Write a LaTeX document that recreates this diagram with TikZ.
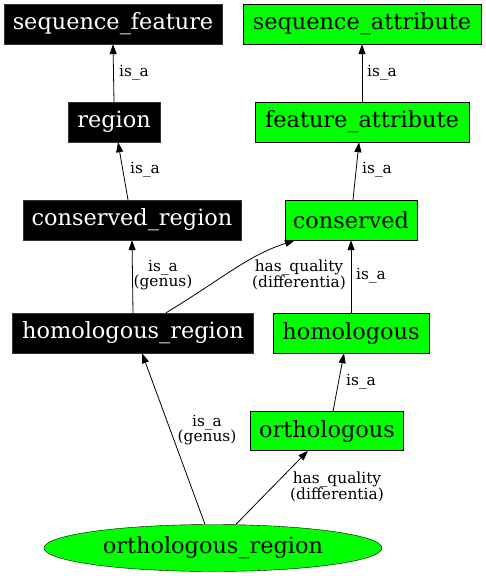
\documentclass[tikz,border=0pt]{standalone}
\usepackage{fontspec}
\setmainfont{DejaVu Serif}
\usetikzlibrary{arrows.meta,shapes.geometric}
\definecolor{gvgreen}{RGB}{0,255,0}
\tikzset{
  blk/.style={draw=black!80, fill=black, text=white, inner sep=0pt, font=\fontsize{22.4}{24}\selectfont},
  grn/.style={draw=black, fill=gvgreen, text=black, inner sep=0pt, font=\fontsize{22.4}{24}\selectfont},
  edge/.style={-{Triangle[length=10pt,width=7pt]}, line width=0.8pt},
  lbl/.style={font=\fontsize{15.4}{15.5}\selectfont, align=center, inner sep=0pt}
}
\begin{document}
\begin{tikzpicture}[x=1pt,y=-1pt]
\useasboundingbox (0,0) rectangle (486,576);
% nodes
\node[blk, minimum width=218pt, minimum height=40pt] (sf) at (113,24) {sequence\_feature};
\node[grn, minimum width=238pt, minimum height=40pt] (sa) at (362,24) {sequence\_attribute};
\node[blk, minimum width=92pt, minimum height=40pt] (rg) at (114,122) {region};
\node[grn, minimum width=214pt, minimum height=40pt] (fa) at (362,122) {feature\_attribute};
\node[blk, minimum width=218pt, minimum height=40pt] (cr) at (132,220) {conserved\_region};
\node[grn, minimum width=132pt, minimum height=40pt] (cs) at (351,220) {conserved};
\node[blk, minimum width=241pt, minimum height=40pt] (hr) at (133,333) {homologous\_region};
\node[grn, minimum width=156pt, minimum height=40pt] (hm) at (351,333) {homologous};
\node[grn, minimum width=153pt, minimum height=39pt] (og) at (327,431) {orthologous};
\node[grn, ellipse, minimum width=338pt, minimum height=47pt] (or) at (213,548) {orthologous\_region};
% edges
\draw[edge] (rg.north) -- (sf.south);
\draw[edge] ([xshift=-4pt]cr.north) -- ([xshift=4pt]rg.south);
\draw[edge] (fa.north) -- (sa.south);
\draw[edge] ([xshift=2pt]cs.north) -- ([xshift=-3pt]fa.south);
\draw[edge] ([xshift=0pt]hr.north) -- (cr.south);
\draw[edge] ([xshift=33pt]hr.north) .. controls (225,277) and (247,256) .. ([xshift=-56pt]cs.south);
\draw[edge] (hm.north) -- (cs.south);
\draw[edge] ([xshift=6pt]og.north) -- ([xshift=-7pt]hm.south);
\draw[edge] ([xshift=-8pt]or.north) -- ([xshift=9pt]hr.south);
\draw[edge] ([xshift=23pt]or.north) -- ([xshift=-19pt]og.south);
% labels
\node[lbl, anchor=west] (l1) at (119,73) {is\_a};
\node[lbl, anchor=west] (l2) at (130,170) {is\_a};
\node[lbl, anchor=west] (l3) at (367,73) {is\_a};
\node[lbl, anchor=west] (l4) at (362,170) {is\_a};
\node[lbl] (l5) at (163,275) {is\_a\\(genus)};
\node[lbl] (l6) at (299,275) {has\_quality\\(differentia)};
\node[lbl, anchor=west] (l7) at (356,276) {is\_a};
\node[lbl, anchor=west] (l8) at (346,382) {is\_a};
\node[lbl] (l9) at (207,430) {is\_a\\(genus)};
\node[lbl] (l10) at (337,487) {has\_quality\\(differentia)};
\end{tikzpicture}
\end{document}
